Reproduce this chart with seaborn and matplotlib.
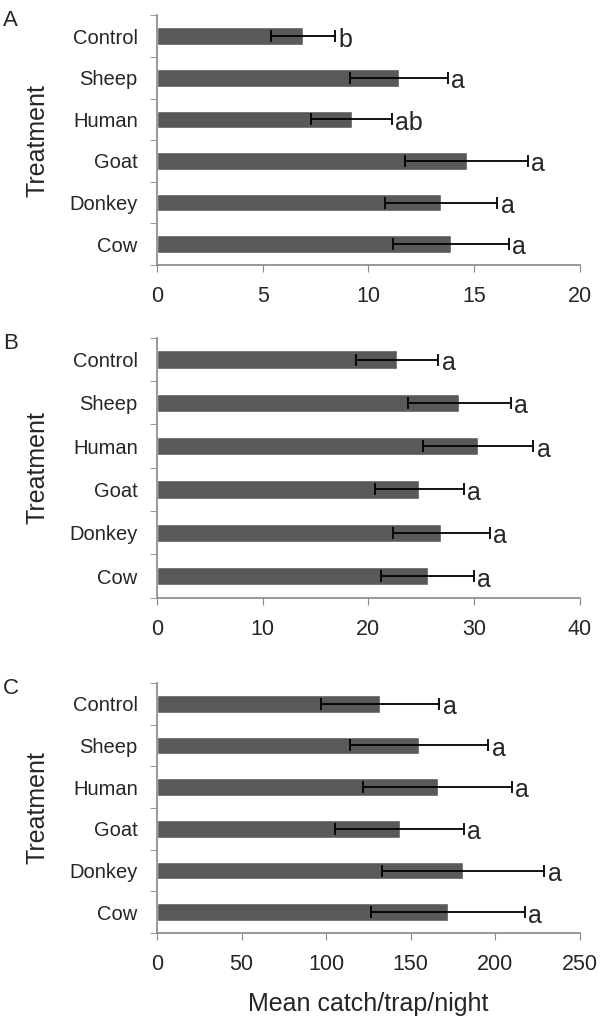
import numpy as np
import pandas as pd
import seaborn as sns
import matplotlib.pyplot as plt
from matplotlib.ticker import FixedLocator

# Datos
treatments = ['Control', 'Sheep', 'Human', 'Goat', 'Donkey', 'Cow']

mean_a = [6.9, 11.45, 9.2, 14.65, 13.45, 13.9]
err_a = [1.5, 2.3, 1.9, 2.9, 2.65, 2.75]
let_a = ['b', 'a', 'ab', 'a', 'a', 'a']

mean_b = [22.7, 28.6, 30.4, 24.8, 26.9, 25.6]
err_b = [3.9, 4.9, 5.2, 4.2, 4.6, 4.4]
let_b = ['a', 'a', 'a', 'a', 'a', 'a']

mean_c = [132, 155, 166, 143.5, 181, 172]
err_c = [35, 41, 44, 38, 48, 45.5]
let_c = ['a', 'a', 'a', 'a', 'a', 'a']

panels = ['A', 'B', 'C']
xmax = [20, 40, 250]
xstep = [5, 10, 50]

sns.set_style('white')
plt.rcParams['font.family'] = ['Liberation Sans', 'DejaVu Sans']

fig = plt.figure(figsize=(6.02, 10.27), dpi=100)
boxes = [[0.261, 0.742, 0.702, 0.243],
         [0.261, 0.418, 0.702, 0.253],
         [0.261, 0.0915, 0.702, 0.2435]]

for i, (means, errs, lets) in enumerate([(mean_a, err_a, let_a),
                                           (mean_b, err_b, let_b),
                                           (mean_c, err_c, let_c)]):
    ax = fig.add_axes(boxes[i])
    df = pd.DataFrame({'treatment': treatments, 'mean': means})
    sns.barplot(data=df, x='mean', y='treatment', orient='h', color='#595959',
                saturation=1, width=0.42, ax=ax, errorbar=None)
    ax.errorbar(means, np.arange(len(treatments)), xerr=errs, fmt='none',
                ecolor='black', elinewidth=1.3, capsize=4, capthick=1.3)
    off = xmax[i] * 0.008
    for j, (m, e, l) in enumerate(zip(means, errs, lets)):
        ax.text(m + e + off, j + 0.08, l, va='center', ha='left', fontsize=18)
    ax.set_xlim(0, xmax[i])
    ax.set_ylim(5.5, -0.5)
    ax.set_xticks(np.arange(0, xmax[i] + 1, xstep[i]))
    ax.yaxis.set_minor_locator(FixedLocator(np.arange(-0.5, 6, 1)))
    ax.tick_params(axis='y', which='major', length=0, pad=14, labelsize=14.5)
    ax.tick_params(axis='y', which='minor', length=5, color='#888888', left=True)
    ax.tick_params(axis='x', length=5, color='#888888', bottom=True,
                   labelsize=15.5, pad=10)
    ax.set_ylabel('Treatment', fontsize=18, labelpad=14)
    ax.set_xlabel('')
    for s in ['top', 'right']:
        ax.spines[s].set_visible(False)
    for s in ['left', 'bottom']:
        ax.spines[s].set_color('#888888')
        ax.spines[s].set_linewidth(1.2)
    fig.text(0.005, boxes[i][1] + boxes[i][3] - 0.005, panels[i],
             fontsize=16, va='center', ha='left')
    if i == 2:
        ax.set_xlabel('Mean catch/trap/night', fontsize=18, labelpad=12)

fig.savefig('out.png', dpi=100)
